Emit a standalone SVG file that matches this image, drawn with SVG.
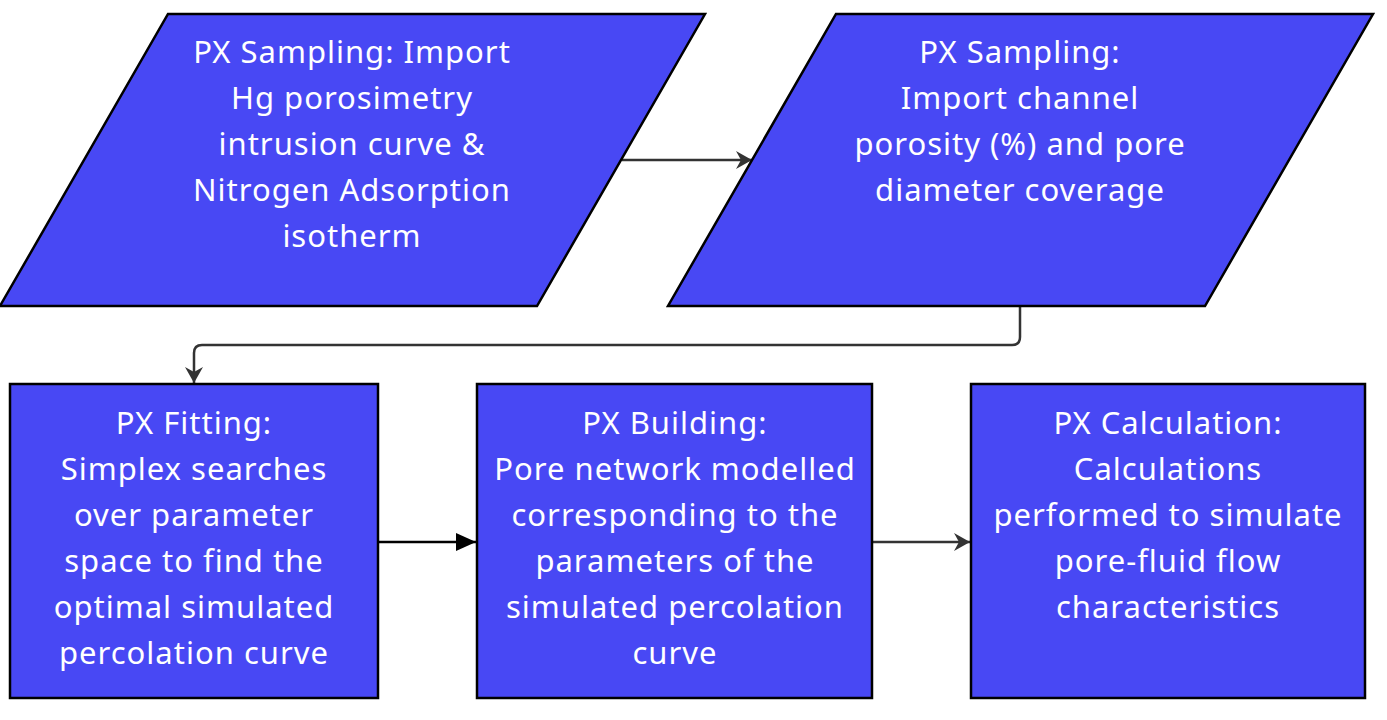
<svg xmlns="http://www.w3.org/2000/svg" width="1387" height="720" viewBox="0 0 1387 720">
<defs>
<style>
.shape{fill:#4848F4;stroke:#000;stroke-width:2.5}
.t{font-family:"Noto Sans","Open Sans",sans-serif;font-size:31px;letter-spacing:1px;fill:#fff;text-anchor:middle}
.c{fill:none;stroke:#333;stroke-width:2.5}
.cb{fill:none;stroke:#000;stroke-width:2.5}
</style>
<marker id="chev" viewBox="0 0 18 20" refX="17" refY="10" markerWidth="18" markerHeight="20" markerUnits="userSpaceOnUse" orient="auto">
<path d="M1,1 L17,10 L1,19 L6,10 Z" fill="#333"/>
</marker>
<marker id="tri" viewBox="0 0 20 18" refX="20" refY="9" markerWidth="20" markerHeight="18" markerUnits="userSpaceOnUse" orient="auto">
<path d="M0,0 L20,9 L0,18 Z" fill="#000"/>
</marker>
</defs>
<rect width="1387" height="720" fill="#fff"/>
<g id="connectors">
<path class="c" d="M622,160 H752" marker-end="url(#chev)"/>
<path class="c" d="M1020,307 V337 Q1020,345 1012,345 H202 Q194,345 194,353 V383" marker-end="url(#chev)"/>
<path class="cb" d="M378,542 H476" marker-end="url(#tri)"/>
<path class="c" d="M872,542 H970" marker-end="url(#chev)"/>
</g>
<g id="sampling1">
<polygon class="shape" points="168,14 705,14 537,306 0,306"/>
<text class="t" x="352" y="63">PX Sampling: Import</text>
<text class="t" x="352" y="109">Hg porosimetry</text>
<text class="t" x="352" y="155">intrusion curve &amp;</text>
<text class="t" x="352" y="201">Nitrogen Adsorption</text>
<text class="t" x="352" y="247">isotherm</text>
</g>
<g id="sampling2">
<polygon class="shape" points="836,14 1373,14 1205,306 668,306"/>
<text class="t" x="1020" y="63">PX Sampling:</text>
<text class="t" x="1020" y="109">Import channel</text>
<text class="t" x="1020" y="155">porosity (%) and pore</text>
<text class="t" x="1020" y="201">diameter coverage</text>
</g>
<g id="fitting">
<rect class="shape" x="10" y="384" width="368" height="314"/>
<text class="t" x="194" y="434">PX Fitting:</text>
<text class="t" x="194" y="480">Simplex searches</text>
<text class="t" x="194" y="526">over parameter</text>
<text class="t" x="194" y="572">space to find the</text>
<text class="t" x="194" y="618">optimal simulated</text>
<text class="t" x="194" y="664">percolation curve</text>
</g>
<g id="building">
<rect class="shape" x="477" y="384" width="395" height="314"/>
<text class="t" x="675" y="434">PX Building:</text>
<text class="t" x="675" y="480">Pore network modelled</text>
<text class="t" x="675" y="526">corresponding to the</text>
<text class="t" x="675" y="572">parameters of the</text>
<text class="t" x="675" y="618">simulated percolation</text>
<text class="t" x="675" y="664">curve</text>
</g>
<g id="calculation">
<rect class="shape" x="971" y="384" width="394" height="314"/>
<text class="t" x="1168" y="434">PX Calculation:</text>
<text class="t" x="1168" y="480">Calculations</text>
<text class="t" x="1168" y="526">performed to simulate</text>
<text class="t" x="1168" y="572">pore-fluid flow</text>
<text class="t" x="1168" y="618">characteristics</text>
</g>
</svg>
